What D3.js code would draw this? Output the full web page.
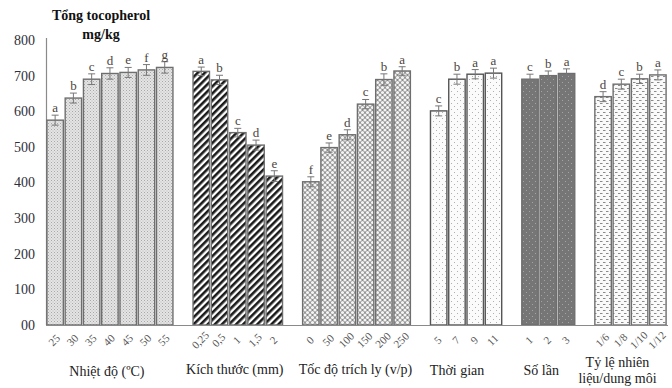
<!DOCTYPE html>
<html>
<head>
<meta charset="utf-8">
<script src="https://cdn.jsdelivr.net/npm/d3@7"></script>
<style>
  body { margin: 0; background: #fff; }
  svg text { font-family: "Liberation Serif", "Times New Roman", "DejaVu Serif", serif !important; }
</style>
</head>
<body>
<div id="chart"></div>
<script>
// data
const tempCats = ['25', '30', '35', '40', '45', '50', '55'];
const tempVals = [575, 637, 690, 706, 709, 716, 723];
const tempErr = [14, 14, 15, 16, 14, 15, 16];
const tempLetters = ['a', 'b', 'c', 'd', 'e', 'f', 'g'];

const sizeCats = ['0,25', '0,5', '1', '1,5', '2'];
const sizeVals = [712, 688, 540, 505, 418];
const sizeErr = [12, 13, 12, 14, 15];
const sizeLetters = ['a', 'b', 'c', 'd', 'e'];

const speedCats = ['0', '50', '100', '150', '200', '250'];
const speedVals = [402, 498, 534, 620, 689, 713];
const speedErr = [14, 13, 14, 13, 16, 12];
const speedLetters = ['f', 'e', 'd', 'c', 'b', 'a'];

const timeCats = ['5', '7', '9', '11'];
const timeVals = [601, 690, 704, 707];
const timeErr = [14, 14, 13, 14];
const timeLetters = ['c', 'b', 'a', 'a'];

const timesCats = ['1', '2', '3'];
const timesVals = [690, 700, 706];
const timesErr = [14, 13, 13];
const timesLetters = ['c', 'b', 'a'];

const ratioCats = ['1/6', '1/8', '1/10', '1/12'];
const ratioVals = [641, 676, 691, 702];
const ratioErr = [14, 14, 13, 14];
const ratioLetters = ['d', 'c', 'b', 'a'];

const groupLabels = [
  ['Nhiệt độ (ºC)'],
  ['Kích thước (mm)'],
  ['Tốc độ trích ly (v/p)'],
  ['Thời gian'],
  ['Số lần'],
  ['Tỷ lệ nhiên', 'liệu/dung môi']
];
const yTicks = [0, 100, 200, 300, 400, 500, 600, 700, 800];

const groups = [
  {cats: tempCats, vals: tempVals, err: tempErr, letters: tempLetters, fill: 'p1'},
  {cats: sizeCats, vals: sizeVals, err: sizeErr, letters: sizeLetters, fill: 'p2'},
  {cats: speedCats, vals: speedVals, err: speedErr, letters: speedLetters, fill: 'p3'},
  {cats: timeCats, vals: timeVals, err: timeErr, letters: timeLetters, fill: 'p4'},
  {cats: timesCats, vals: timesVals, err: timesErr, letters: timesLetters, fill: 'p5'},
  {cats: ratioCats, vals: ratioVals, err: ratioErr, letters: ratioLetters, fill: 'p6'}
];
const labelShift = [-3, -3, -1, -9, -7, -13];
const labelY = [376, 374, 374, 375, 375, 367];
const FONT = '"Liberation Serif", "Times New Roman", serif';

// flatten into slots, with one blank slot between groups
const bars = [];
const slots = [];
groups.forEach((g, gi) => {
  if (gi > 0) slots.push('blank' + gi);
  g.cats.forEach((c, i) => {
    const key = gi + '-' + c;
    slots.push(key);
    bars.push({key, cat: c, val: g.vals[i], err: g.err[i], letter: g.letters[i], fill: g.fill, group: gi});
  });
});

const width = 672, height = 388;
const svg = d3.select('#chart').append('svg')
  .attr('width', width)
  .attr('height', height)
  .attr('font-family', FONT);

// patterns
const defs = svg.append('defs');

let p = defs.append('pattern').attr('id', 'p1').attr('patternUnits', 'userSpaceOnUse')
  .attr('width', 3).attr('height', 3);
p.append('rect').attr('width', 3).attr('height', 3).attr('fill', '#e4e4e4');
p.append('rect').attr('x', 0).attr('y', 0).attr('width', 1).attr('height', 1).attr('fill', '#a8a8a8');
p.append('rect').attr('x', 1.5).attr('y', 1.5).attr('width', 1).attr('height', 1).attr('fill', '#b8b8b8');

p = defs.append('pattern').attr('id', 'p2').attr('patternUnits', 'userSpaceOnUse')
  .attr('width', 5).attr('height', 5).attr('patternTransform', 'rotate(45)');
p.append('rect').attr('width', 5).attr('height', 5).attr('fill', '#fff');
p.append('rect').attr('width', 2.6).attr('height', 5).attr('fill', '#1a1a1a');

p = defs.append('pattern').attr('id', 'p3').attr('patternUnits', 'userSpaceOnUse')
  .attr('width', 5).attr('height', 5);
p.append('rect').attr('width', 5).attr('height', 5).attr('fill', '#8c8c8c');
[[0, 0], [5, 0], [0, 5], [5, 5], [2.5, 2.5]].forEach(([cx, cy]) => {
  p.append('circle').attr('cx', cx).attr('cy', cy).attr('r', 1.6).attr('fill', '#f4f4f4');
});

p = defs.append('pattern').attr('id', 'p4').attr('patternUnits', 'userSpaceOnUse')
  .attr('width', 6).attr('height', 6);
p.append('rect').attr('width', 6).attr('height', 6).attr('fill', '#fbfbfb');
p.append('rect').attr('x', 1).attr('y', 1).attr('width', 1).attr('height', 1).attr('fill', '#b0b0b0');
p.append('rect').attr('x', 4).attr('y', 4).attr('width', 1).attr('height', 1).attr('fill', '#b0b0b0');

p = defs.append('pattern').attr('id', 'p5').attr('patternUnits', 'userSpaceOnUse')
  .attr('width', 6).attr('height', 6);
p.append('rect').attr('width', 6).attr('height', 6).attr('fill', '#767676');
p.append('rect').attr('x', 1).attr('y', 1).attr('width', 1).attr('height', 1).attr('fill', '#a4a4a4');
p.append('rect').attr('x', 4).attr('y', 4).attr('width', 1).attr('height', 1).attr('fill', '#a4a4a4');

p = defs.append('pattern').attr('id', 'p6').attr('patternUnits', 'userSpaceOnUse')
  .attr('width', 6).attr('height', 6);
p.append('rect').attr('width', 6).attr('height', 6).attr('fill', '#fafafa');
p.append('rect').attr('x', 0).attr('y', 1).attr('width', 2.5).attr('height', 1).attr('fill', '#8a8a8a');
p.append('rect').attr('x', 3).attr('y', 4).attr('width', 2.5).attr('height', 1).attr('fill', '#8a8a8a');

// scales
const x = d3.scaleBand()
  .domain(slots)
  .range([46, 667])
  .paddingInner(0.1)
  .paddingOuter(0.05);

const y = d3.scaleLinear()
  .domain([0, 800])
  .range([325, 40]);

// y axis
const yAxis = d3.axisLeft(y)
  .tickValues(yTicks)
  .tickSize(0)
  .tickPadding(11)
  .tickFormat(d => d === 0 ? '00' : d);

const yAxisGroup = svg.append('g')
  .attr('transform', 'translate(46,0)')
  .call(yAxis)
  .attr('font-family', FONT);
yAxisGroup.select('.domain').remove();
yAxisGroup.selectAll('text')
  .attr('font-size', 14)
  .attr('fill', '#2f2f3a');

svg.append('line')
  .attr('x1', 46.5).attr('x2', 46.5)
  .attr('y1', 38).attr('y2', y(0))
  .attr('stroke', '#8a8a8a').attr('stroke-width', 1.2);

// bars
const barG = svg.selectAll('.bar')
  .data(bars)
  .enter()
  .append('g')
  .attr('class', 'bar');

barG.append('rect')
  .attr('x', d => x(d.key))
  .attr('y', d => y(d.val))
  .attr('width', x.bandwidth())
  .attr('height', d => y(0) - y(d.val))
  .attr('fill', d => 'url(#' + d.fill + ')')
  .attr('stroke', d => d.group === 3 ? '#555' : '#6e6e6e')
  .attr('stroke-width', 1.4);

// error bars
const capW = 3.5;
barG.append('line')
  .attr('x1', d => x(d.key) + x.bandwidth() / 2)
  .attr('x2', d => x(d.key) + x.bandwidth() / 2)
  .attr('y1', d => y(d.val + d.err))
  .attr('y2', d => y(d.val - d.err))
  .attr('stroke', '#777').attr('stroke-width', 1);
[1, -1].forEach(s => {
  barG.append('line')
    .attr('x1', d => x(d.key) + x.bandwidth() / 2 - capW)
    .attr('x2', d => x(d.key) + x.bandwidth() / 2 + capW)
    .attr('y1', d => y(d.val + s * d.err))
    .attr('y2', d => y(d.val + s * d.err))
    .attr('stroke', '#777').attr('stroke-width', 1);
});

// significance letters
barG.append('text')
  .text(d => d.letter)
  .attr('x', d => x(d.key) + x.bandwidth() / 2)
  .attr('y', d => y(d.val + d.err) - 3)
  .attr('text-anchor', 'middle')
  .attr('font-size', 13)
  .attr('fill', '#4c4540');

// baseline
svg.append('line')
  .attr('x1', 46).attr('x2', 668)
  .attr('y1', y(0) + 0.5).attr('y2', y(0) + 0.5)
  .attr('stroke', '#8a8a8a').attr('stroke-width', 1.2);

// category tick labels
svg.selectAll('.tick-label')
  .data(bars)
  .enter()
  .append('text')
  .attr('class', 'tick-label')
  .text(d => d.cat)
  .attr('transform', d => `translate(${x(d.key) + x.bandwidth() / 2}, 341) rotate(-45)`)
  .attr('text-anchor', 'middle')
  .attr('dominant-baseline', 'middle')
  .attr('font-size', 11)
  .attr('fill', '#555');

// group labels
groups.forEach((g, gi) => {
  const first = x(gi + '-' + g.cats[0]);
  const last = x(gi + '-' + g.cats[g.cats.length - 1]) + x.bandwidth();
  const cx = (first + last) / 2 + labelShift[gi];
  groupLabels[gi].forEach((line, li) => {
    svg.append('text')
      .text(line)
      .attr('x', cx)
      .attr('y', labelY[gi] + li * 16)
      .attr('text-anchor', 'middle')
      .attr('font-size', 14)
      .attr('fill', '#222');
  });
});

// y title
svg.append('text')
  .text('Tổng tocopherol')
  .attr('x', 101).attr('y', 20)
  .attr('text-anchor', 'middle')
  .attr('font-size', 14)
  .attr('font-weight', 'bold')
  .attr('fill', '#111');
svg.append('text')
  .text('mg/kg')
  .attr('x', 101).attr('y', 39)
  .attr('text-anchor', 'middle')
  .attr('font-size', 14)
  .attr('font-weight', 'bold')
  .attr('fill', '#111');
</script>
</body>
</html>
